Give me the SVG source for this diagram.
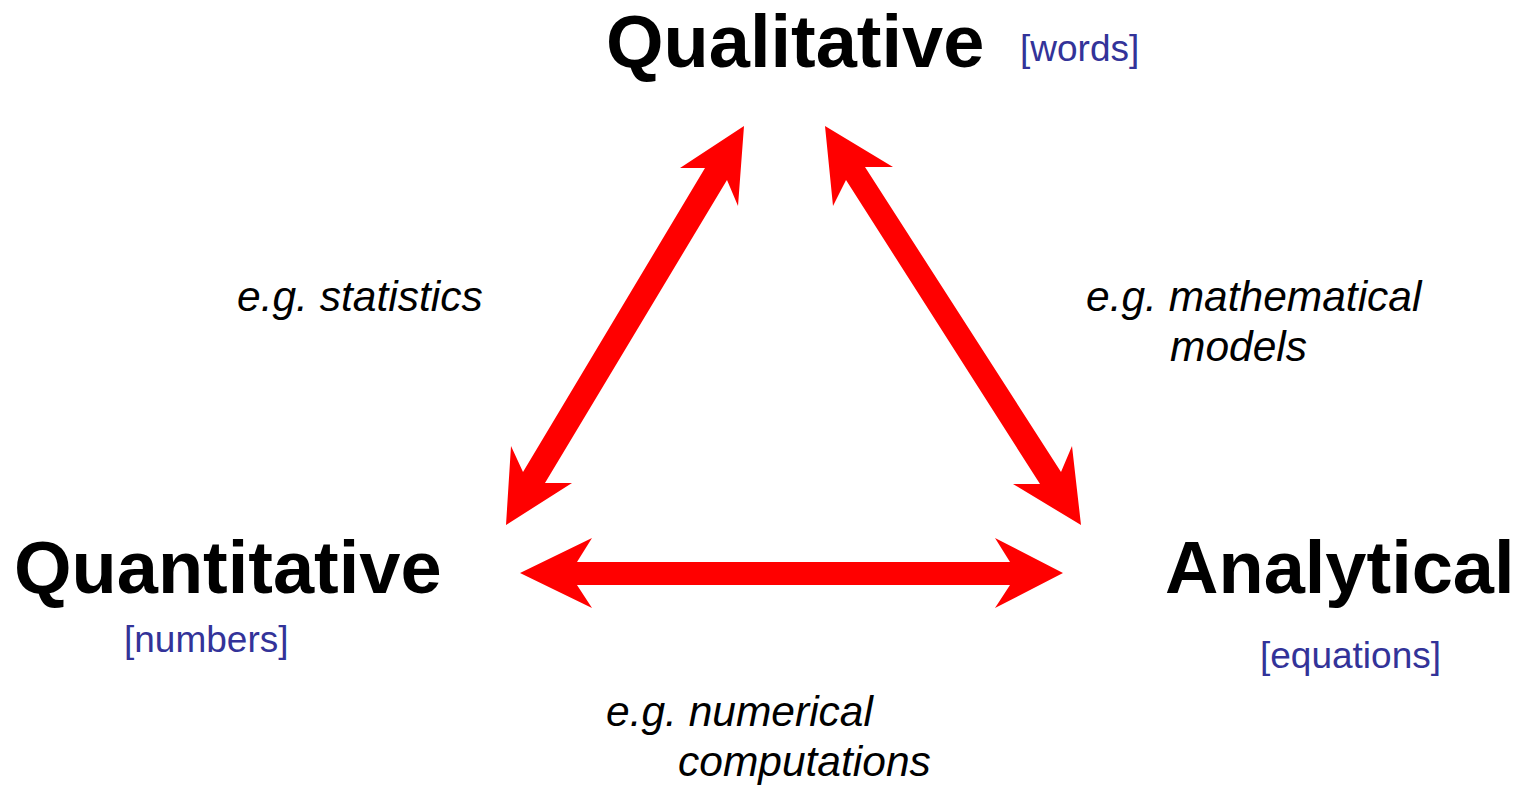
<svg xmlns="http://www.w3.org/2000/svg" width="1528" height="786" viewBox="0 0 1528 786">
<style>
.title{font-family:"Liberation Sans",Arial,sans-serif;font-weight:bold;font-size:74px;fill:#000}
.sub{font-family:"Liberation Sans",Arial,sans-serif;font-size:37px;fill:#333399}
.lbl{font-family:"Liberation Sans",Arial,sans-serif;font-style:italic;font-size:42.5px;fill:#000}
.arrow{fill:#ff0000;stroke:none}
</style>
<rect width="1528" height="786" fill="#fff"/>
<g id="connectors">
<polygon class="arrow" points="744,126 738,206 727,180 545,483 572,483 506,525 511,446 523,472 705,168 680,168"/>
<polygon class="arrow" points="825,126 893,167 865,167 1061,472 1072,446 1081,525 1013,484 1040,484 846,180 833,206"/>
<polygon class="arrow" points="520,573 592,538 577,562 1010,562 995,538 1063,573 995,608 1010,585 577,585 592,608"/>
</g>
<g id="qualitative">
<text class="title" x="606" y="67">Qualitative</text>
<text class="sub" x="1020" y="61">[words]</text>
</g>
<g id="quantitative">
<text class="title" x="14" y="593">Quantitative</text>
<text class="sub" x="124" y="652">[numbers]</text>
</g>
<g id="analytical">
<text class="title" x="1165" y="593">Analytical</text>
<text class="sub" x="1260" y="668">[equations]</text>
</g>
<g id="label-statistics">
<text class="lbl" x="237" y="311">e.g. statistics</text>
</g>
<g id="label-models">
<text class="lbl" x="1086" y="311">e.g. mathematical</text>
<text class="lbl" x="1170" y="361">models</text>
</g>
<g id="label-numerical">
<text class="lbl" x="606" y="726">e.g. numerical</text>
<text class="lbl" x="678" y="776">computations</text>
</g>
</svg>
